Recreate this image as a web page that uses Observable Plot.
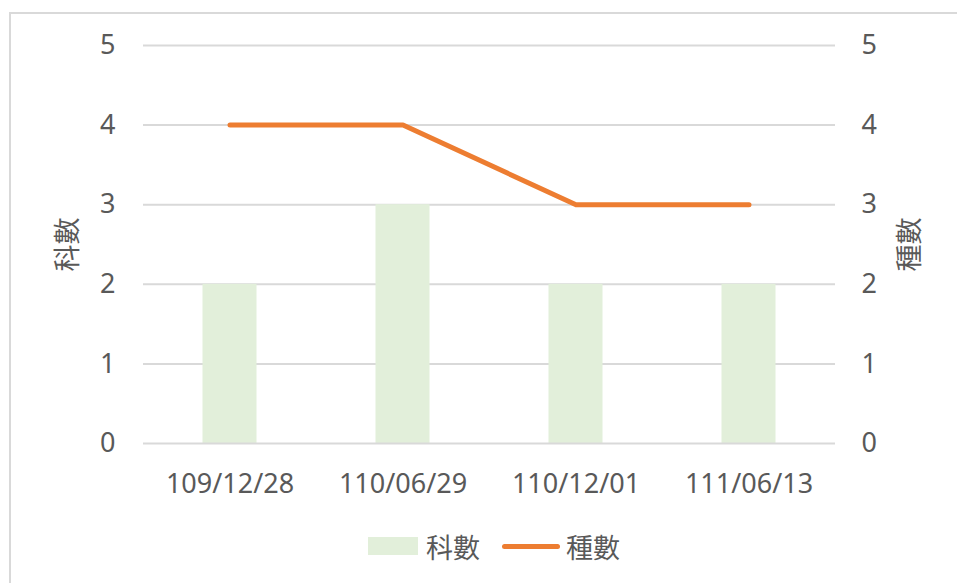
<!DOCTYPE html>
<html>
<head>
<meta charset="utf-8">
<script src="https://cdn.jsdelivr.net/npm/d3@7"></script>
<script src="https://cdn.jsdelivr.net/npm/@observablehq/plot@0.6"></script>
<style>
  html, body { margin: 0; padding: 0; background: #fff; }
  #wrap { position: relative; width: 957px; height: 583px; overflow: hidden; font-family: "Noto Sans", "Noto Sans CJK TC", sans-serif; }
  #frameTop { position: absolute; left: 9px; top: 12px; width: 948px; height: 2px; background: #d9d9d9; }
  #frameLeft { position: absolute; left: 9px; top: 12px; width: 2px; height: 571px; background: #d9d9d9; }
  #chart { position: absolute; left: 0; top: 0; }
  #legend { position: absolute; left: 0; top: 528px; width: 957px; height: 36px; }
  .item { position: absolute; top: 0; height: 36px; display: flex; align-items: center; font-size: 27px; color: #595959; font-family: "Noto Sans CJK TC", sans-serif; }
</style>
</head>
<body>
<div id="wrap">
  <div id="frameTop"></div>
  <div id="frameLeft"></div>
  <div id="chart"></div>
  <div id="legend"></div>
</div>
<script>
const dates = ["109/12/28", "110/06/29", "110/12/01", "111/06/13"];
const families = [2, 3, 2, 2];   // 科數
const species = [4, 4, 3, 3];    // 種數
const yTicks = [0, 1, 2, 3, 4, 5];
const seriesNames = ["科數", "種數"];
const colors = {bar: "#e2efda", line: "#ed7d31", text: "#595959", grid: "#d9d9d9"};

const rows = dates.map((d, i) => ({date: d, families: families[i], species: species[i]}));
const fmt = d3.format("d");

const chart = Plot.plot({
  width: 957,
  height: 583,
  marginTop: 45,
  marginBottom: 140,
  marginLeft: 143,
  marginRight: 122,
  style: {fontFamily: "'Noto Sans', 'Noto Sans CJK TC', sans-serif", fontSize: "27px", color: colors.text, background: "transparent"},
  x: {domain: dates, padding: 0},
  y: {domain: [0, 5]},
  marks: [
    Plot.ruleY(yTicks.filter(t => t > 0), {stroke: colors.grid, strokeWidth: 2}),
    Plot.barY(rows, {x: "date", y: "families", fill: colors.bar, insetLeft: 59.5, insetRight: 59.5}),
    Plot.ruleY([0], {stroke: colors.grid, strokeWidth: 2}),
    Plot.line(rows, {x: "date", y: "species", stroke: colors.line, strokeWidth: 5, strokeLinecap: "round", strokeLinejoin: "round"}),
    Plot.axisY(yTicks, {anchor: "left", tickSize: 0, tickPadding: 28, tickFormat: fmt, label: null, fill: colors.text, fontSize: 27}),
    Plot.axisY(yTicks, {anchor: "right", tickSize: 0, tickPadding: 26, tickFormat: fmt, label: null, fill: colors.text, fontSize: 27}),
    Plot.axisX({tickSize: 0, tickPadding: 30, label: null, fill: colors.text, fontSize: 27}),
    Plot.text([seriesNames[0]], {frameAnchor: "left", textAnchor: "middle", dx: -75, rotate: -90, fill: colors.text, fontSize: 27, fontFamily: "'Noto Sans CJK TC', sans-serif"}),
    Plot.text([seriesNames[1]], {frameAnchor: "right", textAnchor: "middle", dx: 75, rotate: -90, fill: colors.text, fontSize: 27, fontFamily: "'Noto Sans CJK TC', sans-serif"})
  ]
});
document.getElementById("chart").appendChild(chart);

const legend = document.getElementById("legend");
legend.innerHTML = `
  <div class="item" style="left:368px"><span style="display:inline-block;width:50px;height:18px;background:${colors.bar};margin-right:8px"></span>${seriesNames[0]}</div>
  <div class="item" style="left:502px"><span style="display:inline-block;width:58px;height:5px;border-radius:3px;background:${colors.line};margin-right:6px"></span>${seriesNames[1]}</div>
`;
</script>
</body>
</html>
